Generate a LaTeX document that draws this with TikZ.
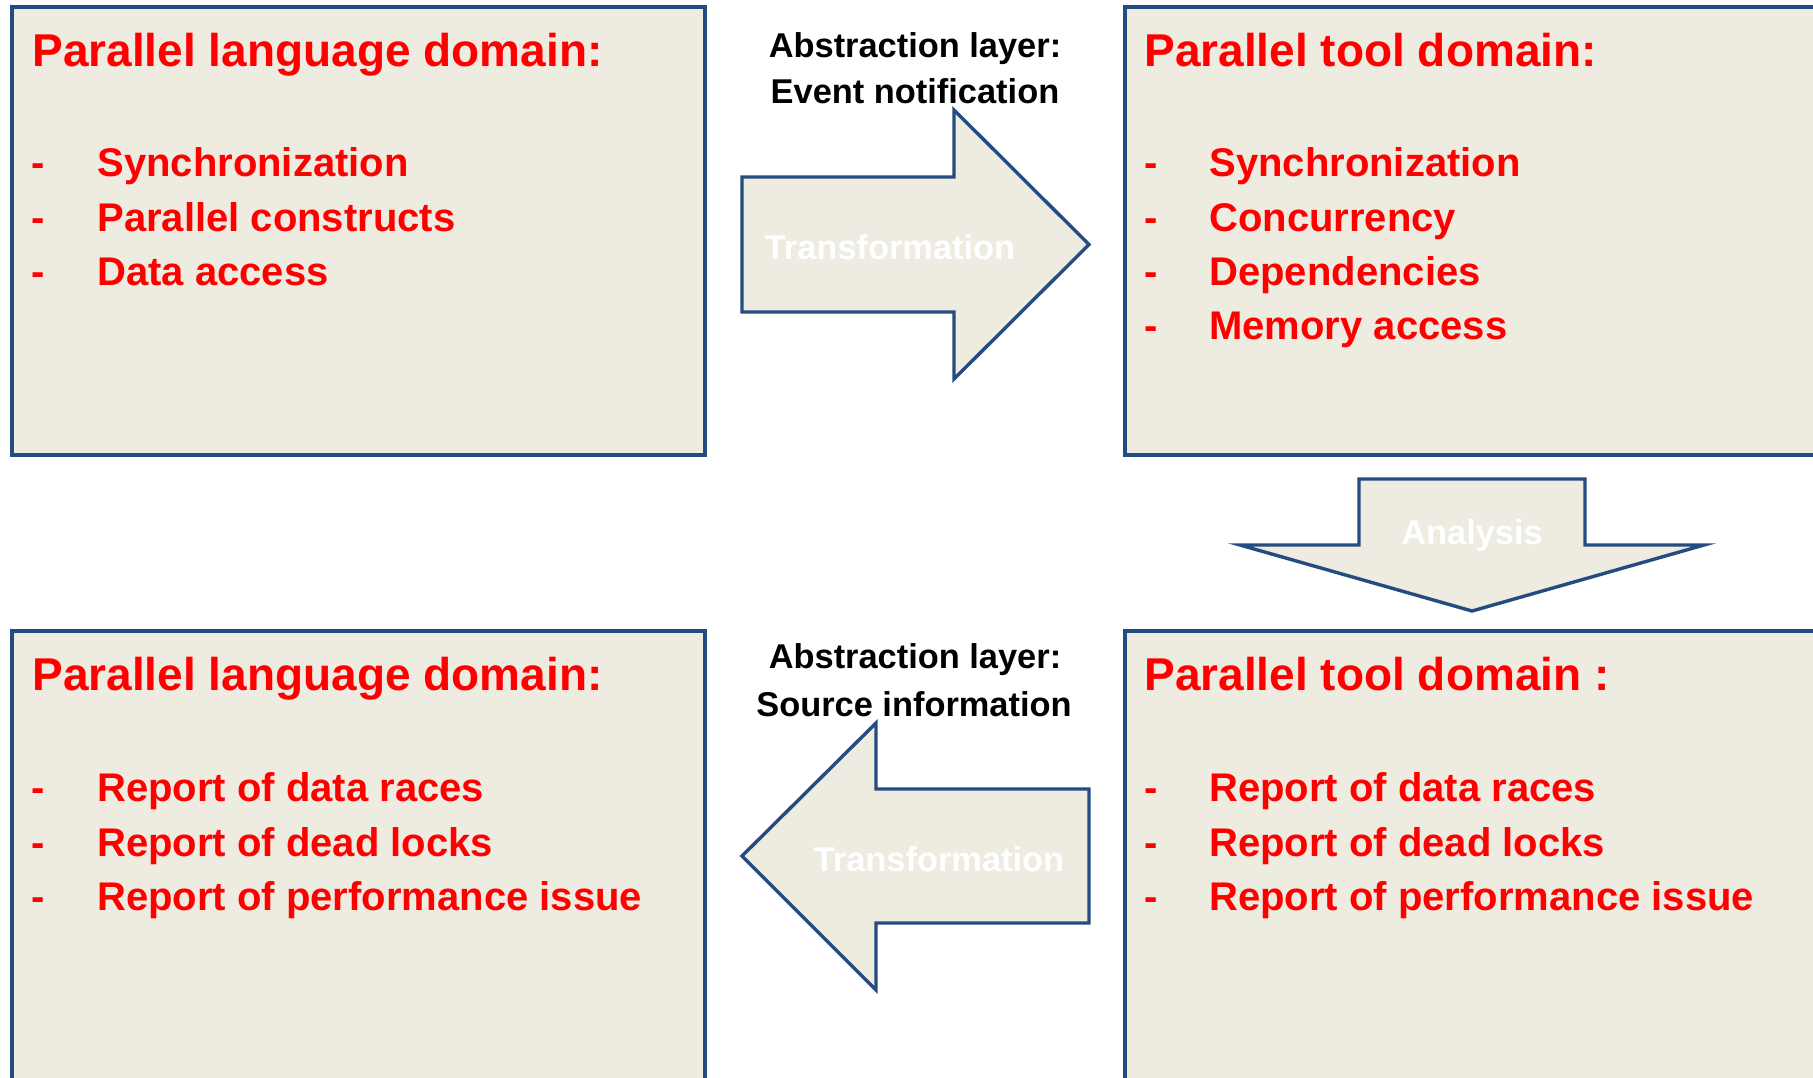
\documentclass[tikz,border=0pt]{standalone}
\usepackage{fontspec}
\setmainfont{Liberation Sans}
\definecolor{boxfill}{HTML}{EEEBE0}
\definecolor{boxline}{HTML}{254C80}
\definecolor{redtxt}{HTML}{FF0000}
\tikzset{
  panel/.style={draw=boxline, fill=boxfill, line width=1.8pt},
  blockarrow/.style={draw=boxline, fill=boxfill, line width=1.7pt, line join=miter},
  titletxt/.style={anchor=base west, inner sep=0pt, text=redtxt, font=\fontsize{23pt}{27pt}\selectfont\bfseries},
  itemtxt/.style={anchor=base west, inner sep=0pt, text=redtxt, font=\fontsize{20pt}{24pt}\selectfont\bfseries},
  layertxt/.style={anchor=base, inner sep=0pt, text=black, font=\fontsize{17.2pt}{20pt}\selectfont\bfseries},
  arrowtxt/.style={anchor=base, inner sep=0pt, text=white, font=\fontsize{17.2pt}{20pt}\selectfont\bfseries}
}
\begin{document}
\begin{tikzpicture}[x=0.5pt, y=-0.5pt]
\useasboundingbox (0,0) rectangle (1813,1077);
\clip (0,0) rectangle (1813,1077);
% panels
\path[panel] (12,7) rectangle (705,455);
\path[panel] (1125,7) rectangle (1840,455);
\path[panel] (12,631) rectangle (705,1100);
\path[panel] (1125,631) rectangle (1840,1100);
\coordinate (tl) at (12,7);
% block arrows
\draw[blockarrow] (742,177) -- (954,177) -- (954,110) -- (1089,244.5) -- (954,379) -- (954,312) -- (742,312) -- cycle;
\draw[blockarrow] (1359,479) -- (1585,479) -- (1585,545) -- (1704,545) -- (1472,611) -- (1240,545) -- (1359,545) -- cycle;
\draw[blockarrow] (1089,789) -- (876,789) -- (876,723) -- (742,856) -- (876,990) -- (876,923) -- (1089,923) -- cycle;
% arrow labels
\node[arrowtxt] (t1) at (890,259) {Transformation};
\node[arrowtxt] (an) at (1472,544) {Analysis};
\node[arrowtxt] (t2) at (939,871) {Transformation};
% abstraction layer labels
\node[layertxt] (al1) at (915,57) {Abstraction layer:};
\node[layertxt] (al2) at (915,103) {Event notification};
\node[layertxt] (al3) at (915,668) {Abstraction layer:};
\node[layertxt] (al4) at (914,716) {Source information};
% top-left
\node[titletxt] (tlh) at (32,66) {Parallel language domain:};
\node[itemtxt] (tld1) at (31,176) {-};
\node[itemtxt] (tld2) at (31,231) {-};
\node[itemtxt] (tld3) at (31,285) {-};
\node[itemtxt] (tli1) at (97,176) {Synchronization};
\node[itemtxt] (tli2) at (97,231) {Parallel constructs};
\node[itemtxt] (tli3) at (97,285) {Data access};
% top-right
\node[titletxt] (trh) at (1144,66) {Parallel tool domain:};
\node[itemtxt] (trd1) at (1144,176) {-};
\node[itemtxt] (trd2) at (1144,231) {-};
\node[itemtxt] (trd3) at (1144,285) {-};
\node[itemtxt] (trd4) at (1144,339) {-};
\node[itemtxt] (tri1) at (1209,176) {Synchronization};
\node[itemtxt] (tri2) at (1209,231) {Concurrency};
\node[itemtxt] (tri3) at (1209,285) {Dependencies};
\node[itemtxt] (tri4) at (1209,339) {Memory access};
% bottom-left
\node[titletxt] (blh) at (32,690) {Parallel language domain:};
\node[itemtxt] (bld1) at (31,801) {-};
\node[itemtxt] (bld2) at (31,856) {-};
\node[itemtxt] (bld3) at (31,910) {-};
\node[itemtxt] (bli1) at (97,801) {Report of data races};
\node[itemtxt] (bli2) at (97,856) {Report of dead locks};
\node[itemtxt] (bli3) at (97,910) {Report of performance issue};
% bottom-right
\node[titletxt] (brh) at (1144,690) {Parallel tool domain :};
\node[itemtxt] (brd1) at (1144,801) {-};
\node[itemtxt] (brd2) at (1144,856) {-};
\node[itemtxt] (brd3) at (1144,910) {-};
\node[itemtxt] (bri1) at (1209,801) {Report of data races};
\node[itemtxt] (bri2) at (1209,856) {Report of dead locks};
\node[itemtxt] (bri3) at (1209,910) {Report of performance issue};
\end{tikzpicture}
\end{document}
